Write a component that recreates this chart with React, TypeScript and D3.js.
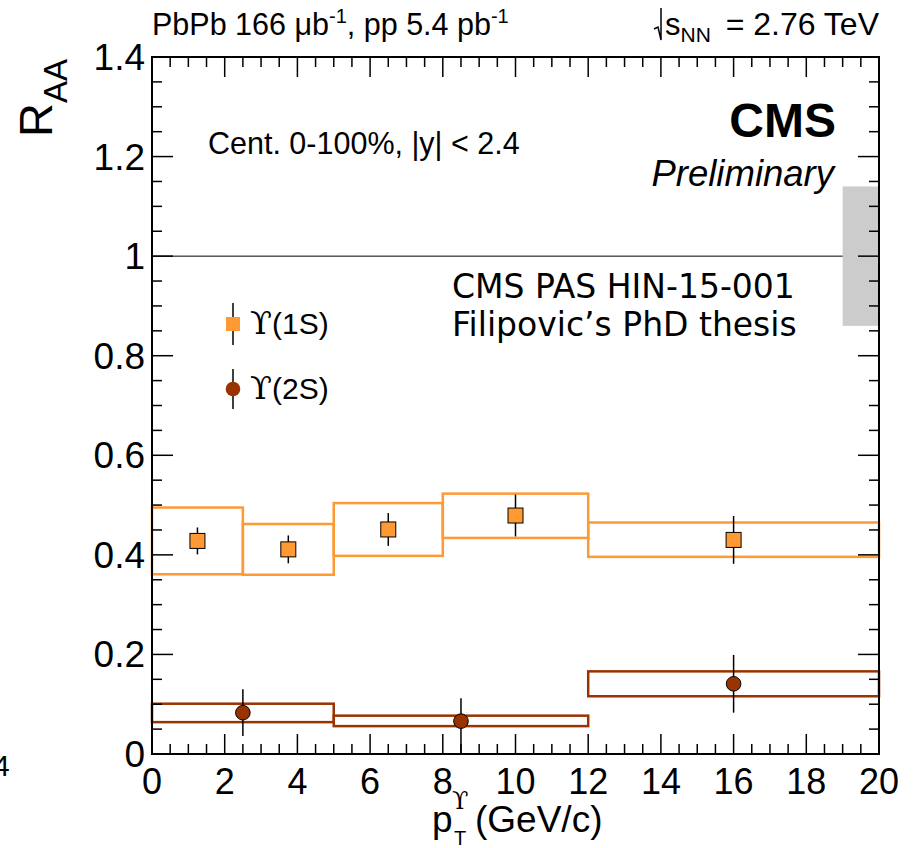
import React from "react";
import * as d3 from "d3";

// ---- data ----
const bin1SLo = [0, 2.5, 5, 8, 12];
const bin1SHi = [2.5, 5, 8, 12, 20];
const pt1S = [1.25, 3.75, 6.5, 10, 16];
const raa1S = [0.428, 0.411, 0.451, 0.479, 0.43];
const stat1S = [0.027, 0.028, 0.033, 0.042, 0.048];
const systLo1S = [0.361, 0.36, 0.398, 0.434, 0.396];
const systHi1S = [0.495, 0.462, 0.504, 0.523, 0.465];

const bin2SLo = [0, 5, 12];
const bin2SHi = [5, 12, 20];
const pt2S = [2.5, 8.5, 16];
const raa2S = [0.083, 0.066, 0.141];
const stat2SUp = [0.047, 0.046, 0.058];
const stat2SDn = [0.047, 0.066, 0.058];
const systLo2S = [0.064, 0.056, 0.116];
const systHi2S = [0.101, 0.077, 0.166];

const globalUnc = [0.86, 1.14];
const xTickLabels = [0, 2, 4, 6, 8, 10, 12, 14, 16, 18, 20];
const yTickLabels = [0, 0.2, 0.4, 0.6, 0.8, 1, 1.2, 1.4];

const C1S = "#ff9933";
const C2S = "#993300";
const FONT = "'Liberation Sans', Arial, Helvetica, sans-serif";
const VFONT = "'DejaVu Sans', Verdana, sans-serif";
const SFONT = "'DejaVu Serif', serif";

export default function App() {
  const W = 917, H = 848;
  const x = d3.scaleLinear().domain([0, 20]).range([152, 879]);
  const y = d3.scaleLinear().domain([0, 1.4]).range([754, 57]);
  const [x0, x1] = x.range();
  const [y0, y1] = y.range();

  const xMinor = d3.range(0, 20.0001, 0.5);
  const yMinor = d3.range(0, 1.40001, 0.05);

  return (
    <div style={{ position: "absolute", left: 0, top: 0 }}>
      <svg width={W} height={H} style={{ display: "block", background: "#fff" }}>
        {/* stray glyph at left edge */}
        <text x={-7} y={776} fontFamily={FONT} fontSize={30} fill="#000">4</text>

        {/* global uncertainty box */}
        <rect x={x(19)} y={y(globalUnc[1])} width={x(20) - x(19)} height={y(globalUnc[0]) - y(globalUnc[1])} fill="#cccccc" />
        {/* unity line */}
        <line x1={x(0)} x2={x(19)} y1={y(1)} y2={y(1)} stroke="#000" strokeWidth={1} />

        {/* syst boxes 1S */}
        {bin1SLo.map((lo, i) => (
          <rect key={"b1" + i} x={x(lo)} y={y(systHi1S[i])} width={x(bin1SHi[i]) - x(lo)} height={y(systLo1S[i]) - y(systHi1S[i])}
            fill="none" stroke={C1S} strokeWidth={2.5} />
        ))}
        {/* syst boxes 2S */}
        {bin2SLo.map((lo, i) => (
          <rect key={"b2" + i} x={x(lo)} y={y(systHi2S[i])} width={x(bin2SHi[i]) - x(lo)} height={y(systLo2S[i]) - y(systHi2S[i])}
            fill="none" stroke={C2S} strokeWidth={2.5} />
        ))}

        {/* stat errors */}
        {pt1S.map((p, i) => (
          <line key={"e1" + i} x1={x(p)} x2={x(p)} y1={y(raa1S[i] + stat1S[i])} y2={y(raa1S[i] - stat1S[i])} stroke="#000" strokeWidth={1.5} />
        ))}
        {pt2S.map((p, i) => (
          <line key={"e2" + i} x1={x(p)} x2={x(p)} y1={y(raa2S[i] + stat2SUp[i])} y2={y(Math.max(0, raa2S[i] - stat2SDn[i]))} stroke="#000" strokeWidth={1.5} />
        ))}

        {/* markers */}
        {pt1S.map((p, i) => (
          <rect key={"m1" + i} x={x(p) - 7.5} y={y(raa1S[i]) - 7.5} width={15} height={15} fill={C1S} stroke="#000" strokeWidth={1} />
        ))}
        {pt2S.map((p, i) => (
          <circle key={"m2" + i} cx={x(p)} cy={y(raa2S[i])} r={7.3} fill={C2S} stroke="#000" strokeWidth={1} />
        ))}

        {/* frame */}
        <rect x={x0} y={y1} width={x1 - x0} height={y0 - y1} fill="none" stroke="#000" strokeWidth={2} />

        {/* x ticks bottom & top */}
        {xMinor.map((v, i) => {
          const len = i % 4 === 0 ? 20 : 10;
          return (
            <g key={"xt" + i}>
              <line x1={x(v)} x2={x(v)} y1={y0} y2={y0 - len} stroke="#000" strokeWidth={1.5} />
              <line x1={x(v)} x2={x(v)} y1={y1} y2={y1 + len} stroke="#000" strokeWidth={1.5} />
            </g>
          );
        })}
        {/* y ticks left & right */}
        {yMinor.map((v, i) => {
          const len = i % 4 === 0 ? 21 : 10;
          return (
            <g key={"yt" + i}>
              <line x1={x0} x2={x0 + len} y1={y(v)} y2={y(v)} stroke="#000" strokeWidth={1.5} />
              <line x1={x1} x2={x1 - len} y1={y(v)} y2={y(v)} stroke="#000" strokeWidth={1.5} />
            </g>
          );
        })}

        {/* tick labels */}
        {xTickLabels.map((v) => (
          <text key={"xl" + v} x={x(v)} y={794} textAnchor="middle" fontFamily={FONT} fontSize={36} fill="#000">{v}</text>
        ))}
        {yTickLabels.map((v) => (
          <text key={"yl" + v} x={145} y={y(v) + 13} textAnchor="end" fontFamily={FONT} fontSize={37} fill="#000">{d3.format("~g")(v)}</text>
        ))}

        {/* axis titles */}
        <text transform="translate(52,59) rotate(-90)" textAnchor="end" fontFamily={FONT} fill="#000">
          <tspan fontSize={47}>R</tspan>
          <tspan fontSize={33} dy={15}>AA</tspan>
        </text>
        <text x={432} y={832} fontFamily={FONT} fontSize={37} fill="#000">p</text>
        <text x={452} y={809} fontFamily={SFONT} fontSize={24} fill="#000">ϒ</text>
        <text x={454} y={845} fontFamily={FONT} fontSize={20} fill="#000">T</text>
        <text x={475} y={832} fontFamily={FONT} fontSize={37} fill="#000">(GeV/c)</text>

        {/* header texts */}
        <text x={152} y={35} fontFamily={FONT} fontSize={30.5} fill="#000">
          <tspan>PbPb 166 μb</tspan>
          <tspan fontSize={20} dy={-12}>-1</tspan>
          <tspan dy={12}>, pp 5.4 pb</tspan>
          <tspan fontSize={20} dy={-12}>-1</tspan>
        </text>
        <path d="M654,29 L658,27 L661,40 L661,8" fill="none" stroke="#000" strokeWidth={1.5} />
        <text x={665} y={35} fontFamily={FONT} fontSize={31} fill="#000">
          <tspan>s</tspan>
          <tspan fontSize={21} dy={7}>NN</tspan>
        </text>
        <text x={879} y={35} textAnchor="end" fontFamily={FONT} fontSize={32} fill="#000">= 2.76 TeV</text>

        {/* in-plot labels */}
        <text x={208} y={154} fontFamily={FONT} fontSize={30.5} fill="#000">Cent. 0-100%, |y| &lt; 2.4</text>
        <text x={836} y={137} textAnchor="end" fontFamily={FONT} fontSize={48} fontWeight="bold" fill="#000">CMS</text>
        <text x={834} y={186} textAnchor="end" fontFamily={FONT} fontSize={36.5} fontStyle="italic" fill="#000">Preliminary</text>
        <text x={452} y={298} fontFamily={VFONT} fontSize={33} fill="#000">CMS PAS HIN-15-001</text>
        <text x={452} y={336} fontFamily={VFONT} fontSize={33} fill="#000">Filipovic’s PhD thesis</text>

        {/* legend */}
        <line x1={233} x2={233} y1={303} y2={345} stroke="#000" strokeWidth={1.5} />
        <rect x={226} y={317} width={14} height={14} fill={C1S} stroke="none" />
        <text x={250} y={334} fontFamily={FONT} fontSize={30} fill="#000">
          <tspan fontFamily={SFONT} fontSize={32}>ϒ</tspan>
          <tspan>(1S)</tspan>
        </text>
        <line x1={233} x2={233} y1={369} y2={409} stroke="#000" strokeWidth={1.5} />
        <circle cx={233} cy={389} r={7.3} fill={C2S} stroke="none" />
        <text x={250} y={399} fontFamily={FONT} fontSize={30} fill="#000">
          <tspan fontFamily={SFONT} fontSize={32}>ϒ</tspan>
          <tspan>(2S)</tspan>
        </text>
      </svg>
    </div>
  );
}
